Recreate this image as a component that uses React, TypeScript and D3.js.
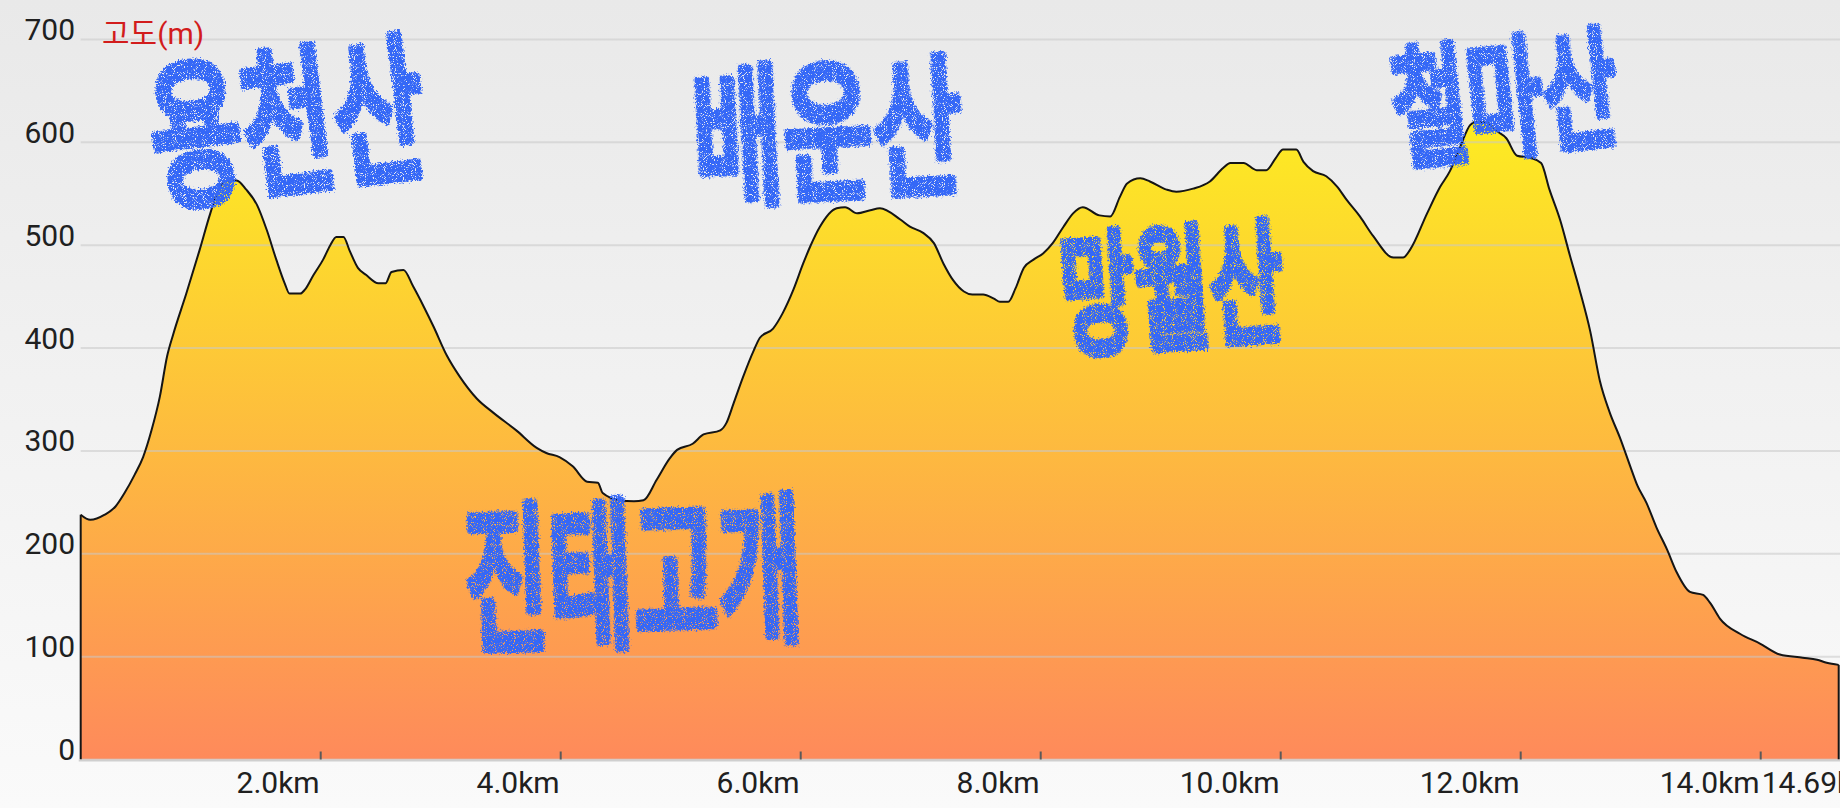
import React from "react";
import * as d3 from "d3";

// ---- data ----
const distanceKm = [
  0, 0.08, 0.2, 0.29, 0.37, 0.45, 0.52, 0.59, 0.66, 0.72, 0.77, 0.88, 0.99, 1.08, 1.16, 1.22, 1.3, 1.38, 1.47, 1.55,
  1.63, 1.7, 1.74, 1.83, 1.87, 1.94, 2.02, 2.08, 2.13, 2.19, 2.24, 2.31, 2.38, 2.48, 2.54, 2.59, 2.69, 2.77, 2.86, 2.94,
  3.05, 3.16, 3.3, 3.44, 3.63, 3.8, 3.88, 3.99, 4.1, 4.22, 4.31, 4.35, 4.49, 4.61, 4.69, 4.8, 4.91, 4.97, 5.1, 5.19,
  5.33, 5.38, 5.44, 5.52, 5.61, 5.66, 5.77, 5.85, 5.94, 6.02, 6.08, 6.16, 6.3, 6.37, 6.47, 6.58, 6.66, 6.83, 6.91, 7.02,
  7.11, 7.19, 7.27, 7.36, 7.43, 7.52, 7.61, 7.66, 7.73, 7.79, 7.86, 7.94, 8.02, 8.1, 8.19, 8.27, 8.35, 8.49, 8.58, 8.66,
  8.72, 8.83, 8.91, 9.05, 9.13, 9.27, 9.41, 9.52, 9.58, 9.69, 9.8, 9.88, 9.96, 10.02, 10.13, 10.19, 10.27, 10.38, 10.47, 10.55,
  10.66, 10.77, 10.94, 11.02, 11.08, 11.22, 11.33, 11.41, 11.49, 11.58, 11.63, 11.72, 11.8, 11.88, 11.97, 12.08, 12.17, 12.24, 12.33, 12.41,
  12.49, 12.58, 12.66, 12.74, 12.83, 12.91, 12.97, 13.05, 13.13, 13.22, 13.3, 13.41, 13.52, 13.58, 13.66, 13.83, 13.99, 14.16, 14.35, 14.47,
  14.55, 14.65,
];
const elevationM = [
  238, 233, 238, 246, 260, 277, 294, 320, 353, 392, 413, 453, 495, 531, 557, 563, 563, 554, 539, 515,
  486, 463, 453, 453, 457, 471, 486, 500, 508, 508, 495, 478, 471, 463, 463, 474, 476, 460, 440, 421,
  393, 372, 351, 337, 320, 303, 298, 294, 285, 270, 269, 259, 252, 251, 252, 272, 293, 301, 307, 316,
  320, 327, 346, 372, 398, 410, 419, 434, 457, 482, 499, 518, 536, 537, 531, 534, 536, 525, 518, 512,
  502, 482, 466, 455, 452, 452, 448, 445, 445, 458, 478, 486, 492, 502, 518, 531, 537, 529, 528, 547,
  560, 565, 562, 554, 552, 555, 562, 575, 580, 580, 573, 573, 585, 593, 593, 581, 572, 567, 557, 544,
  528, 509, 488, 488, 496, 531, 557, 572, 594, 617, 620, 619, 611, 604, 587, 585, 580, 554, 524, 490,
  457, 416, 368, 338, 312, 286, 267, 249, 226, 204, 182, 163, 160, 152, 137, 122, 113, 102, 99, 97,
  94, 92,
];
const yTickValues = [0, 100, 200, 300, 400, 500, 600, 700];
const xTickKm = [2, 4, 6, 8, 10, 12, 14];
const xTickLabels = ["2.0km", "4.0km", "6.0km", "8.0km", "10.0km", "12.0km", "14.0km"];
const totalKm = 14.69;
const endLabel = "14.69km";
const yAxisTitle = "고도(m)";

// hand-written place names, anchored at (km, m)
const placeNames = ["용천산", "배운산", "철마산", "망월산", "진태고개"];
const placeKm = [1.71, 6.22, 11.86, 9.09, 4.6];
const placeElev = [630, 620, 652, 466, 190];

const W = 1840;
const H = 808;

const placeStyle = [
  { size: 100, sy: 1.6, rot: -7 },
  { size: 98, sy: 1.55, rot: -3 },
  { size: 82, sy: 1.58, rot: -6 },
  { size: 81, sy: 1.65, rot: -4 },
  { size: 92, sy: 1.75, rot: -2 },
];

export default function App() {
  const x = d3.scaleLinear().domain([0, totalKm]).range([80.7, 80.7 + totalKm * 120]);
  const y = d3.scaleLinear().domain([0, 700]).range([759.5, 39.5]);

  const pts: [number, number][] = distanceKm.map((d, i) => [d, elevationM[i]]);
  const area = d3
    .area<[number, number]>()
    .x((d) => x(d[0]))
    .y0(y(0))
    .y1((d) => y(d[1]))
    .curve(d3.curveMonotoneX);
  const line = d3
    .line<[number, number]>()
    .x((d) => x(d[0]))
    .y((d) => y(d[1]))
    .curve(d3.curveMonotoneX);

  const maxE = d3.max(elevationM) as number;
  const first = pts[0];
  const last = pts[pts.length - 1];

  const labelFont = "Roboto, 'Noto Sans', sans-serif";

  return (
    <svg
      width={W}
      height={H}
      viewBox={`0 0 ${W} ${H}`}
      style={{ position: "absolute", left: 0, top: 0, display: "block" }}
    >
      <defs>
        <linearGradient id="bg" x1="0" y1="0" x2="0" y2={H} gradientUnits="userSpaceOnUse">
          <stop offset="0" stopColor="#e9e9e9" />
          <stop offset="1" stopColor="#fafafa" />
        </linearGradient>
        <linearGradient id="fill" x1="0" y1={y(maxE)} x2="0" y2={y(0)} gradientUnits="userSpaceOnUse">
          <stop offset="0" stopColor="#fdec22" />
          <stop offset="1" stopColor="#fe8a5b" />
        </linearGradient>
        <filter id="crayon" x="-10%" y="-20%" width="120%" height="140%">
          <feTurbulence type="fractalNoise" baseFrequency="0.55" numOctaves="2" seed="3" result="n" />
          <feDisplacementMap in="SourceGraphic" in2="n" scale="7" xChannelSelector="R" yChannelSelector="G" result="rough" />
          <feTurbulence type="fractalNoise" baseFrequency="1.1" numOctaves="1" seed="9" result="n2" />
          <feColorMatrix
            in="n2"
            type="matrix"
            values="0 0 0 0 1  0 0 0 0 1  0 0 0 0 1  -10 0 0 0 6.8"
            result="holes"
          />
          <feComposite in="rough" in2="holes" operator="in" />
        </filter>
      </defs>

      <rect x={0} y={0} width={W} height={H} fill="url(#bg)" />

      <path d={area(pts) || ""} fill="url(#fill)" />

      {yTickValues.map((v) => (
        <line
          key={"g" + v}
          x1={x(0)}
          x2={W}
          y1={y(v)}
          y2={y(v)}
          stroke="#c8c8c8"
          strokeOpacity={0.55}
          strokeWidth={2}
        />
      ))}

      <path d={line(pts) || ""} fill="none" stroke="#151515" strokeWidth={2} strokeLinejoin="round" />
      <line x1={x(first[0])} x2={x(first[0])} y1={y(first[1])} y2={y(0)} stroke="#151515" strokeWidth={2} />
      <line x1={x(last[0])} x2={x(last[0])} y1={y(last[1])} y2={y(0)} stroke="#151515" strokeWidth={2} />

      <line x1={x(0) - 2} x2={W} y1={y(0) + 1} y2={y(0) + 1} stroke="#cfcfcf" strokeWidth={2} />
      {xTickKm.map((k) => (
        <line key={"t" + k} x1={x(k)} x2={x(k)} y1={y(0) - 8} y2={y(0)} stroke="#5a5a5a" strokeWidth={2} />
      ))}

      {yTickValues.map((v) => (
        <text
          key={"yl" + v}
          x={75}
          y={y(v) + 0.5}
          textAnchor="end"
          fontFamily={labelFont}
          fontSize={30}
          fill="#202020"
        >
          {v}
        </text>
      ))}
      <text x={102} y={y(700) + 4} fontFamily="Roboto, 'Noto Sans CJK KR', sans-serif" fontSize={30} fill="#d21c1c">
        {yAxisTitle}
      </text>

      {xTickKm.map((k, i) => (
        <text
          key={"xl" + k}
          x={x(k) - 1}
          y={793}
          textAnchor="end"
          fontFamily={labelFont}
          fontSize={30}
          fill="#202020"
        >
          {xTickLabels[i]}
        </text>
      ))}
      <text x={x(14) + 1} y={793} textAnchor="start" fontFamily={labelFont} fontSize={30} fill="#202020">
        {endLabel}
      </text>

      <g filter="url(#crayon)">
        {placeNames.map((name, i) => {
          const s = placeStyle[i];
          return (
            <text
              key={name}
              transform={`translate(${x(placeKm[i])},${y(placeElev[i])}) rotate(${s.rot}) scale(1,${s.sy})`}
              textAnchor="middle"
              dominantBaseline="central"
              fontFamily="'Noto Sans CJK KR', sans-serif"
              fontWeight={500}
              fontSize={s.size}
              fill="#3467f7"
              stroke="#3467f7"
              strokeWidth={5}
              strokeLinejoin="round"
              strokeLinecap="round"
            >
              {name}
            </text>
          );
        })}
      </g>
    </svg>
  );
}
